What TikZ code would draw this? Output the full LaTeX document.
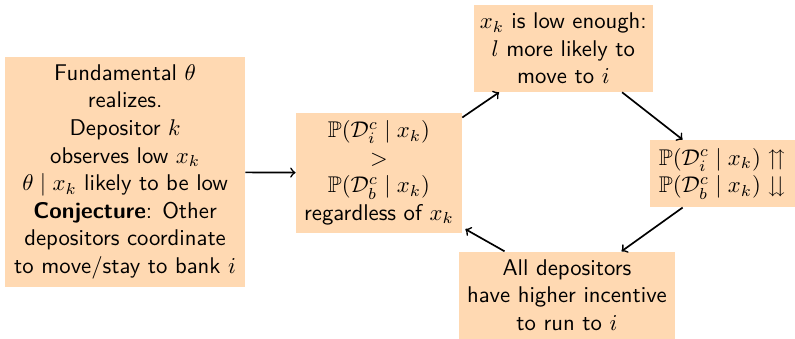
\RequirePackage{fix-cm}
\documentclass[tikz,border=0pt]{standalone}
\usepackage{amsmath,amssymb}
\usepackage{tikz}

\begin{document}
\begin{tikzpicture}[
        stepbox/.style={fill=orange!30, align=center, inner sep=2pt,
            font=\fontsize{10.8}{13.1}\selectfont\sffamily},
        every edge/.style={draw, ->, thick}
    ]
        \useasboundingbox (0, 0) rectangle (13.28, 5.66);

        \node[stepbox, minimum width=4.0cm, minimum height=3.84cm] (fund) at (2.09, 2.79)
            {Fundamental $\theta$\\ realizes.\\ Depositor $k$\\ observes low $x_k$\\
             $\theta \mid x_k$ likely to be low\\ \textbf{Conjecture}: Other\\
             depositors coordinate\\ to move/stay to bank $i$};
        \node[stepbox, minimum width=2.77cm, minimum height=2.0cm] (cmp) at (6.33, 2.77)
            {$\mathbb{P}(\mathcal{D}_i^c \mid x_k)$\\ $>$\\ $\mathbb{P}(\mathcal{D}_b^c \mid x_k)$\\ regardless of $x_k$};
        \node[stepbox, minimum width=2.99cm, minimum height=1.45cm] (low) at (9.41, 4.85)
            {$x_k$ is low enough:\\ $l$ more likely to\\ move to $i$};
        \node[stepbox, minimum width=2.42cm, minimum height=1.12cm] (prob) at (12.07, 2.76)
            {$\mathbb{P}(\mathcal{D}_i^c \mid x_k) \upuparrows$\\ $\mathbb{P}(\mathcal{D}_b^c \mid x_k) \downdownarrows$};
        \node[stepbox, minimum width=3.61cm, minimum height=1.45cm] (run) at (9.47, 0.73)
            {All depositors\\ have higher incentive\\ to run to $i$};

        \draw[->, thick] (fund) -- (cmp);
        \draw[->, thick] ([yshift=-0.08cm]cmp.north east) -- ([xshift=0.43cm]low.south west);
        \draw[->, thick] ([xshift=-0.52cm]low.south east) -- ([xshift=0.55cm]prob.north west);
        \draw[->, thick] ([xshift=0.55cm]prob.south west) -- ([xshift=-0.9cm]run.north east);
        \draw[->, thick] ([xshift=0.77cm]run.north west) -- ([xshift=0.05cm, yshift=0.07cm]cmp.south east);
    \end{tikzpicture}
\end{document}
